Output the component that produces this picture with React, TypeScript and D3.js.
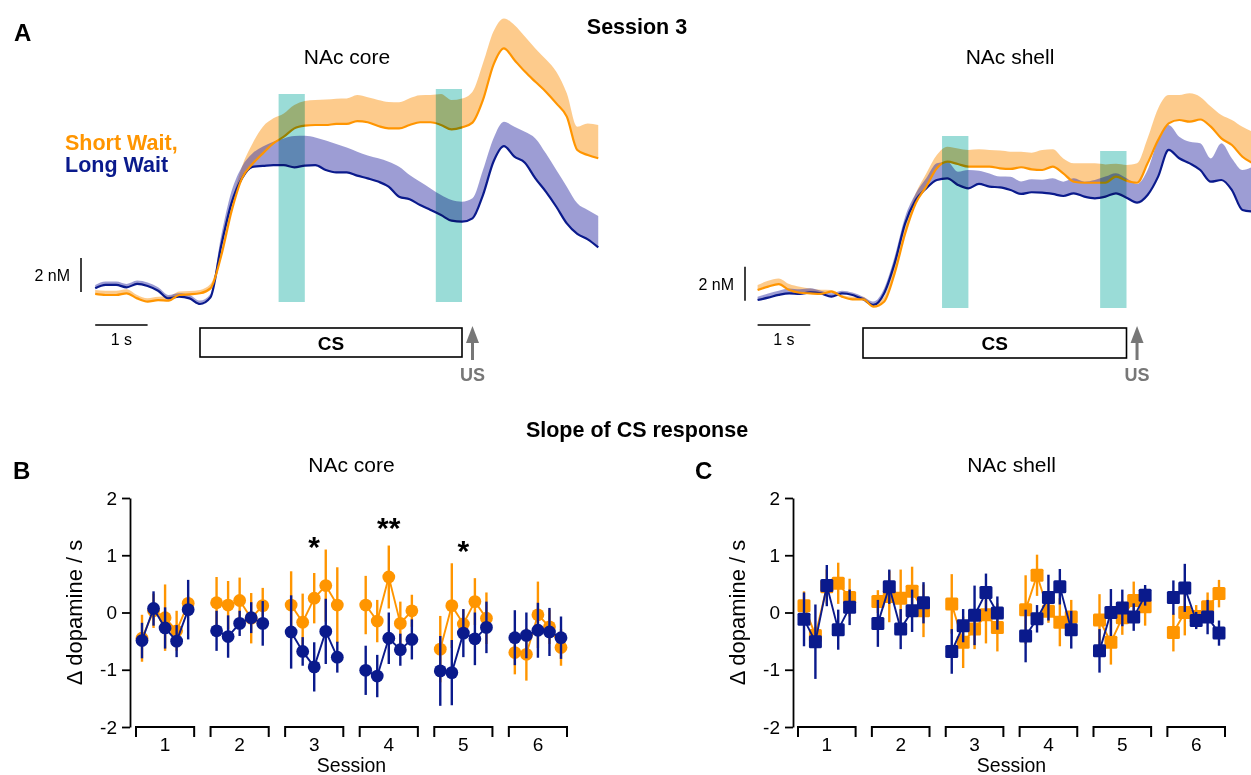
import * as d3 from "d3";
import { useEffect, useRef } from "react";

const FONT = "'Liberation Sans', Arial, Helvetica, sans-serif";
const ORANGE = "#FF9500";
const NAVY = "#0A1A8C";
const GREY = "#777777";

// --- Panel A : voltammetry traces (nM), sampled every 0.2 s, CS onset at t = 0
const time = [
  -2.0, -1.8, -1.6, -1.4, -1.2, -1.0, -0.8, -0.6, -0.4, -0.2, 0.0, 0.2, 0.4, 0.6, 0.8, 1.0, 1.2,
  1.4, 1.6, 1.8, 2.0, 2.2, 2.4, 2.6, 2.8, 3.0, 3.2, 3.4, 3.6, 3.8, 4.0, 4.2, 4.4, 4.6, 4.8, 5.0,
  5.2, 5.4, 5.6, 5.8, 6.0, 6.2, 6.4, 6.6, 6.8, 7.0, 7.2, 7.4, 7.6,
];

const coreShortMean = [
  0.12, 0.06, 0.06, 0.16, -0.14, -0.33, -0.24, -0.27, 0.06, 0.1, 0.16, 0.45, 2.31, 4.96, 6.92,
  7.76, 8.39, 8.98, 9.37, 9.86, 10.02, 10.06, 10.06, 10.12, 10.12, 10.29, 10.22, 10.0, 9.86, 9.86,
  10.06, 10.22, 10.22, 10.06, 9.8, 9.92, 10.2, 11.53, 13.6, 14.57, 13.88, 13.2, 12.6, 12.02, 11.33,
  10.55, 8.59, 8.29, 8.1,
];
const coreShortSem = [
  0.24, 0.25, 0.25, 0.24, 0.2, 0.2, 0.2, 0.24, 0.2, 0.2, 0.2, 0.25, 0.3, 0.49, 0.69, 1.2, 1.57,
  1.47, 1.37, 1.37, 1.45, 1.47, 1.5, 1.49, 1.5, 1.53, 1.47, 1.53, 1.55, 1.53, 1.57, 1.59, 1.6,
  1.82, 1.73, 1.7, 1.82, 2.16, 1.96, 1.76, 2.06, 2.06, 1.96, 1.9, 1.86, 1.37, 1.37, 1.86, 1.96,
];
const coreLongMean = [
  0.45, 0.65, 0.65, 0.51, 0.71, 0.59, 0.31, -0.14, -0.04, -0.14, -0.47, -0.08, 2.9, 5.45, 6.92,
  7.6, 7.65, 7.7, 7.7, 7.57, 7.67, 7.7, 7.41, 7.27, 7.27, 7.08, 6.92, 6.73, 6.43, 5.84, 5.69, 5.35,
  5.06, 4.76, 4.43, 4.37, 4.57, 5.94, 7.9, 8.82, 8.2, 7.84, 6.92, 6.14, 5.25, 4.27, 3.65, 3.33,
  2.86,
];
const coreLongSem = [
  0.2, 0.2, 0.2, 0.2, 0.2, 0.2, 0.2, 0.2, 0.2, 0.2, 0.2, 0.2, 0.59, 0.69, 0.69, 0.78, 1.14, 1.37,
  1.57, 1.84, 1.75, 1.63, 1.73, 1.67, 1.47, 1.41, 1.35, 1.37, 1.47, 1.76, 1.43, 1.37, 1.27, 1.18,
  1.22, 1.18, 1.18, 1.47, 1.37, 1.43, 1.76, 1.82, 2.35, 2.25, 2.16, 2.16, 1.8, 1.73, 1.84,
];

const shellShortMean = [
  0.47, 0.67, 0.82, 0.47, 0.31, 0.27, 0.24, 0.37, 0.08, -0.08, -0.08, -0.51, -0.22, 1.45, 3.8,
  5.57, 6.55, 7.63, 8.02, 7.88, 7.73, 7.73, 7.73, 7.63, 7.59, 7.69, 7.57, 7.53, 7.73, 7.33, 6.84,
  6.78, 6.78, 6.78, 7.14, 6.9, 6.78, 7.92, 9.29, 10.27, 10.47, 10.37, 10.5, 10.08, 9.39, 9.0, 8.31,
  7.92,
];
const shellShortSem = [
  0.29, 0.35, 0.33, 0.35, 0.35, 0.29, 0.24, 0.1, 0.1, 0.16, 0.16, 0.16, 0.29, 0.59, 0.59, 0.59,
  0.78, 0.78, 0.88, 0.92, 0.98, 1.02, 0.98, 1.04, 1.02, 0.92, 0.98, 1.18, 1.02, 0.88, 1.08, 1.14,
  1.14, 1.08, 0.75, 0.92, 1.14, 1.47, 1.86, 1.67, 1.47, 1.67, 1.33, 1.18, 1.37, 1.47, 1.76, 1.86,
];
const shellLongMean = [
  -0.12, 0.02, 0.18, 0.27, 0.24, 0.33, 0.27, 0.08, 0.27, 0.18, -0.08, -0.41, 0.27, 2.04, 4.39,
  5.76, 6.45, 6.94, 7.04, 6.65, 6.45, 6.71, 6.55, 6.51, 6.35, 6.12, 6.22, 6.2, 6.12, 6.0, 6.16,
  5.96, 5.86, 5.96, 6.16, 5.9, 5.61, 6.06, 7.14, 8.71, 8.22, 7.92, 7.53, 6.84, 6.94, 6.35, 5.18,
  5.08,
];
const shellLongSem = [
  0.2, 0.25, 0.25, 0.29, 0.27, 0.24, 0.16, 0.2, 0.16, 0.14, 0.16, 0.2, 0.29, 0.39, 0.39, 0.39,
  0.59, 0.98, 0.98, 0.78, 1.08, 0.78, 0.78, 0.63, 0.78, 0.73, 0.76, 0.75, 0.92, 0.84, 0.88, 0.88,
  1.08, 1.18, 1.18, 1.14, 1.1, 1.47, 2.16, 1.47, 1.27, 1.27, 1.57, 1.37, 2.16, 1.86, 2.35, 2.65,
];

const slopeWindows = [
  [1.5, 2.0],
  [4.5, 5.0],
];
const csPeriod = [0, 5];
const usTime = 5.2;

// --- Panels B, C : slope of CS response, 6 sessions x 5 points
const sessions = ["1", "2", "3", "4", "5", "6"];
const blocks = [0, 1, 2, 3, 4];
const yTicks = [-2, -1, 0, 1, 2];

const coreShortSlope = [
  [-0.45, 0.03, -0.09, -0.32, 0.16],
  [0.17, 0.13, 0.21, -0.1, 0.12],
  [0.13, -0.17, 0.25, 0.47, 0.13],
  [0.13, -0.15, 0.62, -0.19, 0.03],
  [-0.64, 0.12, -0.2, 0.19, -0.1],
  [-0.7, -0.73, -0.04, -0.25, -0.61],
];
const coreShortSlopeSem = [
  [0.41, 0.3, 0.58, 0.35, 0.12],
  [0.45, 0.42, 0.4, 0.44, 0.31],
  [0.59, 0.5, 0.44, 0.63, 0.66],
  [0.51, 0.37, 0.55, 0.38, 0.28],
  [0.58, 0.74, 0.25, 0.41, 0.45],
  [0.38, 0.46, 0.58, 0.3, 0.32],
];
const coreLongSlope = [
  [-0.49, 0.07, -0.27, -0.5, 0.05],
  [-0.32, -0.42, -0.19, -0.09, -0.19],
  [-0.34, -0.68, -0.95, -0.33, -0.78],
  [-1.01, -1.11, -0.45, -0.65, -0.47],
  [-1.02, -1.05, -0.36, -0.46, -0.26],
  [-0.44, -0.4, -0.31, -0.34, -0.44],
];
const coreLongSlopeSem = [
  [0.31, 0.3, 0.36, 0.28, 0.52],
  [0.35, 0.37, 0.22, 0.27, 0.39],
  [0.64, 0.25, 0.43, 0.57, 0.27],
  [0.43, 0.37, 0.45, 0.28, 0.35],
  [0.61, 0.57, 0.42, 0.46, 0.45],
  [0.48, 0.4, 0.48, 0.42, 0.37],
];

const shellShortSlope = [
  [0.12, -0.4, 0.45, 0.51, 0.26],
  [0.19, 0.28, 0.25, 0.37, 0.03],
  [0.15, -0.52, -0.29, -0.04, -0.26],
  [0.05, 0.65, 0.02, -0.17, -0.08],
  [-0.13, -0.52, -0.09, 0.21, 0.1],
  [-0.35, 0.0, -0.07, 0.1, 0.33],
];
const shellShortSlopeSem = [
  [0.25, 0.15, 0.3, 0.36, 0.33],
  [0.2, 0.45, 0.5, 0.43, 0.46],
  [0.52, 0.45, 0.35, 0.5, 0.42],
  [0.6, 0.36, 0.2, 0.42, 0.3],
  [0.45, 0.39, 0.3, 0.33, 0.33],
  [0.33, 0.4, 0.2, 0.25, 0.24],
];
const shellLongSlope = [
  [-0.12, -0.51, 0.47, -0.3, 0.09],
  [-0.19, 0.45, -0.29, 0.03, 0.17],
  [-0.68, -0.23, -0.05, 0.35, -0.01],
  [-0.41, -0.11, 0.26, 0.45, -0.3],
  [-0.67, 0.0, 0.08, -0.08, 0.3],
  [0.26, 0.43, -0.14, -0.08, -0.36],
];
const shellLongSlopeSem = [
  [0.47, 0.65, 0.36, 0.35, 0.31],
  [0.41, 0.3, 0.35, 0.37, 0.36],
  [0.39, 0.29, 0.52, 0.33, 0.29],
  [0.46, 0.24, 0.4, 0.31, 0.33],
  [0.38, 0.41, 0.32, 0.24, 0.18],
  [0.3, 0.42, 0.15, 0.3, 0.22],
];

// significance marks in panel B (session, label, height in Δ dopamine / s)
const coreStars = [
  { session: "3", label: "*", at: 1.25 },
  { session: "4", label: "**", at: 1.58 },
  { session: "5", label: "*", at: 1.18 },
];

// ---------------------------------------------------------------- panel A
const TracePanel = (props) => {
  const { x, y, short, long, tealTop, tealBottom, title, titleX, barX, barFrom, csTop, csBottom } = props;

  const band = (mean, sem) =>
    d3
      .area()
      .x((d, i) => x(time[i]))
      .y0((d, i) => y(mean[i]))
      .y1((d, i) => y(mean[i] + sem[i]))
      .curve(d3.curveMonotoneX)(mean);
  const line = (mean) =>
    d3
      .line()
      .x((d, i) => x(time[i]))
      .y((d) => y(d))
      .curve(d3.curveMonotoneX)(mean);

  const usX = x(usTime);
  return (
    <g>
      <text x={titleX} y={64} textAnchor="middle" fontSize={21}>
        {title}
      </text>
      <path d={band(short[0], short[1])} fill="#FB8C00" fillOpacity={0.45} />
      <path d={band(long[0], long[1])} fill="#3C3CAA" fillOpacity={0.5} />
      <path d={line(long[0])} fill="none" stroke={NAVY} strokeWidth={2.2} />
      <path d={line(short[0])} fill="none" stroke={ORANGE} strokeWidth={2.2} />
      {slopeWindows.map((w, i) => (
        <rect
          key={i}
          x={x(w[0])}
          y={tealTop[i]}
          width={x(w[1]) - x(w[0])}
          height={tealBottom - tealTop[i]}
          fill="#9ADCD7"
          style={{ mixBlendMode: "multiply" }}
        />
      ))}
      {/* 2 nM scale bar */}
      <line x1={barX} x2={barX} y1={y(barFrom)} y2={y(barFrom + 2)} stroke="#000" strokeWidth={1.5} />
      <text x={barX - 11} y={(y(barFrom) + y(barFrom + 2)) / 2 + 6} textAnchor="end" fontSize={16}>
        2 nM
      </text>
      {/* 1 s scale bar */}
      <line x1={x(-2)} x2={x(-1)} y1={325} y2={325} stroke="#000" strokeWidth={1.5} />
      <text x={(x(-2) + x(-1)) / 2} y={345} textAnchor="middle" fontSize={16}>
        1 s
      </text>
      {/* CS box */}
      <rect
        x={x(csPeriod[0])}
        y={csTop}
        width={x(csPeriod[1]) - x(csPeriod[0])}
        height={csBottom - csTop}
        fill="#fff"
        stroke="#000"
        strokeWidth={1.6}
      />
      <text
        x={(x(csPeriod[0]) + x(csPeriod[1])) / 2}
        y={(csTop + csBottom) / 2 + 7}
        textAnchor="middle"
        fontSize={19}
        fontWeight="bold"
      >
        CS
      </text>
      {/* US arrow */}
      <line x1={usX} x2={usX} y1={360} y2={338} stroke={GREY} strokeWidth={3} />
      <path d={`M${usX},326 L${usX + 6.5},343 L${usX - 6.5},343 Z`} fill={GREY} />
      <text x={usX} y={381} textAnchor="middle" fontSize={18} fontWeight="bold" fill={GREY}>
        US
      </text>
    </g>
  );
};

// ---------------------------------------------------------------- panels B, C
const yScale = d3.scaleLinear().domain([-2, 2]).range([727, 498]);

const YAxis = ({ x }) => {
  const ref = useRef(null);
  useEffect(() => {
    const g = d3.select(ref.current);
    g.selectAll("*").remove();
    g.call(
      d3
        .axisLeft(yScale)
        .tickValues(yTicks)
        .tickSize(8)
        .tickPadding(5)
        .tickSizeOuter(0)
        .tickFormat((d) => String(d))
    );
    g.attr("font-size", null).attr("font-family", null);
    g.select(".domain").attr("stroke", "#000").attr("stroke-width", 1.8);
    g.selectAll(".tick line").attr("stroke", "#000").attr("stroke-width", 1.8);
    g.selectAll(".tick text").attr("font-size", 19).attr("font-family", FONT).attr("fill", "#000");
  }, []);
  return <g ref={ref} transform={`translate(${x},0)`} />;
};

const SlopePanel = (props) => {
  const { axisX, range, short, shortSem, long, longSem, square, title, labelX } = props;
  const xs = d3.scaleBand().domain(sessions).range(range).paddingInner(0.22);
  const xp = d3.scalePoint().domain(blocks).range([6, xs.bandwidth() - 6]);
  const px = (s, j) => xs(sessions[s]) + xp(j);
  const mid = (range[0] + range[1]) / 2;
  const link = d3
    .line()
    .x((d, j) => xp(j))
    .y((d) => yScale(d));

  const series = (mean, sem, color, key) => (
    <g key={key}>
      {mean.map((vals, s) => (
        <g key={s}>
          {vals.map((v, j) => (
            <line
              key={"e" + j}
              x1={px(s, j)}
              x2={px(s, j)}
              y1={yScale(v - sem[s][j])}
              y2={yScale(v + sem[s][j])}
              stroke={color}
              strokeWidth={2.4}
            />
          ))}
          <path
            d={link(vals)}
            transform={`translate(${xs(sessions[s])},0)`}
            fill="none"
            stroke={color}
            strokeWidth={1.9}
          />
          {vals.map((v, j) =>
            square ? (
              <rect
                key={"m" + j}
                x={px(s, j) - 6.5}
                y={yScale(v) - 6.5}
                width={13}
                height={13}
                rx={1.5}
                fill={color}
              />
            ) : (
              <circle key={"m" + j} cx={px(s, j)} cy={yScale(v)} r={6.4} fill={color} />
            )
          )}
        </g>
      ))}
    </g>
  );

  return (
    <g>
      <text x={mid} y={472} textAnchor="middle" fontSize={21}>
        {title}
      </text>
      <YAxis x={axisX} />
      <text
        transform={`translate(${labelX},${yScale(0)}) rotate(-90)`}
        textAnchor="middle"
        fontSize={22}
      >
        Δ dopamine / s
      </text>
      {sessions.map((s) => (
        <g key={s}>
          <path
            d={`M${xs(s)},737V727H${xs(s) + xs.bandwidth()}V737`}
            fill="none"
            stroke="#000"
            strokeWidth={2}
          />
          <text x={xs(s) + xs.bandwidth() / 2} y={751} textAnchor="middle" fontSize={19}>
            {s}
          </text>
        </g>
      ))}
      <text x={mid} y={772} textAnchor="middle" fontSize={19.5}>
        Session
      </text>
      {series(short, shortSem, ORANGE, "short")}
      {series(long, longSem, NAVY, "long")}
      {props.stars &&
        props.stars.map((m) => (
          <text
            key={m.session}
            x={xs(m.session) + xs.bandwidth() / 2}
            y={yScale(m.at) + 16}
            textAnchor="middle"
            fontSize={30}
            fontWeight="bold"
          >
            {m.label}
          </text>
        ))}
    </g>
  );
};

const App = () => {
  const coreX = d3.scaleLinear().domain([0, 5]).range([200, 462]);
  const coreY = d3.scaleLinear().domain([0, 14]).range([296, 58]);
  const shellX = d3.scaleLinear().domain([0, 5]).range([863, 1126.5]);
  const shellY = d3.scaleLinear().domain([0, 14]).range([298, 60]);

  return (
    <svg
      width={1251}
      height={775}
      fontFamily={FONT}
      style={{ position: "absolute", left: 0, top: 0, background: "#fff" }}
    >
      <rect width={1251} height={775} fill="#fff" />
      <text x={14} y={41} fontSize={24} fontWeight="bold">
        A
      </text>
      <text x={637} y={34} textAnchor="middle" fontSize={21.5} fontWeight="bold">
        Session 3
      </text>
      <text x={65} y={150} fontSize={21.5} fontWeight="bold" fill={ORANGE}>
        Short Wait,
      </text>
      <text x={65} y={172} fontSize={21.5} fontWeight="bold" fill={NAVY}>
        Long Wait
      </text>

      <TracePanel
        x={coreX}
        y={coreY}
        short={[coreShortMean, coreShortSem]}
        long={[coreLongMean, coreLongSem]}
        tealTop={[94, 89]}
        tealBottom={302}
        title="NAc core"
        titleX={347}
        barX={81}
        barFrom={0.24}
        csTop={328}
        csBottom={357}
      />
      <TracePanel
        x={shellX}
        y={shellY}
        short={[shellShortMean, shellShortSem]}
        long={[shellLongMean, shellLongSem]}
        tealTop={[136, 151]}
        tealBottom={308}
        title="NAc shell"
        titleX={1010}
        barX={745}
        barFrom={-0.16}
        csTop={328}
        csBottom={358}
      />

      <text x={637} y={437} textAnchor="middle" fontSize={21.5} fontWeight="bold">
        Slope of CS response
      </text>
      <text x={13} y={479} fontSize={24} fontWeight="bold">
        B
      </text>
      <text x={695} y={479} fontSize={24} fontWeight="bold">
        C
      </text>

      <SlopePanel
        axisX={130}
        range={[136, 567]}
        short={coreShortSlope}
        shortSem={coreShortSlopeSem}
        long={coreLongSlope}
        longSem={coreLongSlopeSem}
        square={false}
        title="NAc core"
        labelX={82}
        stars={coreStars}
      />
      <SlopePanel
        axisX={793}
        range={[798, 1225]}
        short={shellShortSlope}
        shortSem={shellShortSlopeSem}
        long={shellLongSlope}
        longSem={shellLongSlopeSem}
        square={true}
        title="NAc shell"
        labelX={745}
      />
    </svg>
  );
};

export default App;
